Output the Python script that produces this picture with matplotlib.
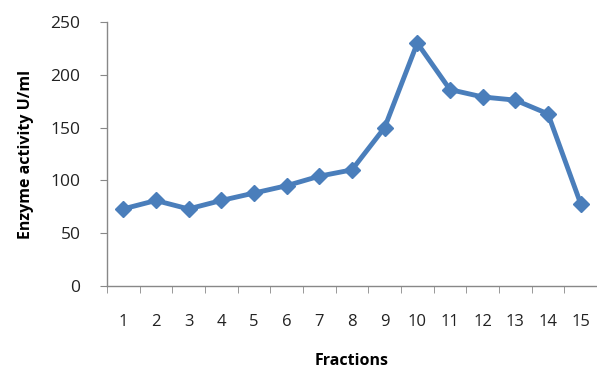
import numpy as np
import matplotlib.pyplot as plt

# fraction number vs enzyme activity
fractions = np.arange(1, 16)
activity = [73, 81, 73, 81, 88, 95, 104, 110, 150, 230, 186, 179, 176, 163, 78]
tick_labels = [str(f) for f in fractions]

plt.rcParams['font.family'] = ['Open Sans', 'DejaVu Sans']

fig = plt.figure(figsize=(5.97, 3.72), dpi=100)
ax = fig.add_axes([0.179, 0.231, 0.821, 0.71])

ax.plot(fractions, activity, color='#4a7ebb', lw=3.5, marker='D', ms=8,
        markerfacecolor='#4a7ebb', markeredgecolor='#4a7ebb', zorder=3)

ax.set_xlim(0.5, 15.5)
ax.set_ylim(0, 250)
ax.set_yticks(range(0, 251, 50))

# labels centred in categories, tick marks on the boundaries
ax.set_xticks(fractions)
ax.set_xticklabels(tick_labels)
ax.set_xticks(np.arange(0.5, 15.5, 1), minor=True)
ax.tick_params(axis='x', which='major', length=0, pad=20, labelsize=12, colors='#222222')
ax.tick_params(axis='x', which='minor', length=5, color='#888888', direction='out')
ax.tick_params(axis='y', length=5, color='#888888', labelcolor='#222222',
               labelsize=12.5, pad=14)

for s in ['top', 'right']:
    ax.spines[s].set_visible(False)
for s in ['left', 'bottom']:
    ax.spines[s].set_color('#888888')
    ax.spines[s].set_linewidth(1)

ax.set_xlabel('Fractions', fontsize=11.5, fontweight='bold', labelpad=17)
ax.set_ylabel('Enzyme activity U/ml', fontsize=11.5, fontweight='bold', labelpad=12)

fig.savefig('out.png', dpi=100)
